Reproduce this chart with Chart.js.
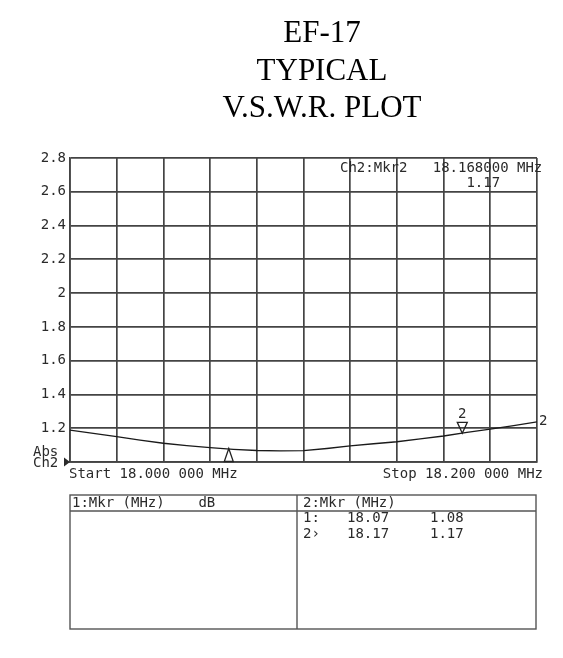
<!DOCTYPE html>
<html><head><meta charset="utf-8">
<script src="https://cdn.jsdelivr.net/npm/chart.js@4.4.0/dist/chart.umd.min.js"></script>
<style>html,body{margin:0;padding:0;background:#fff;}</style>
</head><body>
<canvas id="c" width="563" height="658"></canvas>
<script>
// ---- data ----
const titleLines = ['EF-17', 'TYPICAL', 'V.S.W.R. PLOT'];
const freqs = [18.00, 18.01, 18.02, 18.03, 18.04, 18.05, 18.06, 18.07, 18.08, 18.09, 18.10,
               18.11, 18.12, 18.13, 18.14, 18.15, 18.16, 18.17, 18.18, 18.19, 18.20];
const vswr  = [1.189, 1.170, 1.150, 1.130, 1.111, 1.097, 1.085, 1.075, 1.068, 1.066, 1.067,
               1.080, 1.095, 1.108, 1.120, 1.137, 1.154, 1.175, 1.195, 1.216, 1.238];
const yTickLabels = ['', '1.2', '1.4', '1.6', '1.8', '2', '2.2', '2.4', '2.6', '2.8'];
const markerNums  = ['1', '2'];
const markerFreqs = [18.068, 18.168];
const markerVals  = [1.08, 1.17];
const activeMarkerText = ['Ch2:Mkr2   18.168000 MHz', '               1.17'];
const startLabel = 'Start 18.000 000 MHz';
const stopLabel  = 'Stop 18.200 000 MHz';
const axisUnitLines = ['Abs', 'Ch2'];
const tableHeaders = ['1:Mkr (MHz)    dB', '2:Mkr (MHz)'];
const tableRows = [['1:', '18.07', '1.08'], ['2\u203A', '18.17', '1.17']];

// ---- styles ----
const MONO = '"DejaVu Sans Mono", "Liberation Mono", monospace';
const GRID = '#444';
const INK = '#2a2a2a';

const overlay = {
  id: 'overlay',
  afterDraw(chart) {
    const ctx = chart.ctx;
    const xs = chart.scales.x, ys = chart.scales.y;
    const area = chart.chartArea;
    ctx.save();
    // titles
    ctx.fillStyle = '#000';
    ctx.font = '31px "Liberation Serif", "Times New Roman", serif';
    ctx.textAlign = 'center';
    ctx.textBaseline = 'alphabetic';
    titleLines.forEach((t, i) => ctx.fillText(t, 322, 42 + i * 37.5));

    // instrument text
    ctx.fillStyle = INK;
    ctx.font = '14px ' + MONO;
    ctx.textAlign = 'left';
    ctx.textBaseline = 'middle';
    ctx.fillText(activeMarkerText[0], 340, 168);
    ctx.fillText(activeMarkerText[1], 340, 183);
    ctx.fillText(startLabel, 69, area.bottom + 12);
    ctx.textAlign = 'right';
    ctx.fillText(stopLabel, 543, area.bottom + 12);
    ctx.textAlign = 'left';
    ctx.fillText(axisUnitLines[0], 33, area.bottom - 10);
    ctx.fillText(axisUnitLines[1], 33, area.bottom + 1);

    // reference-level arrow
    ctx.beginPath();
    ctx.moveTo(area.left, area.bottom);
    ctx.lineTo(area.left - 6, area.bottom - 4.5);
    ctx.lineTo(area.left - 6, area.bottom + 4.5);
    ctx.closePath();
    ctx.fill();

    // markers
    ctx.strokeStyle = '#222';
    ctx.lineWidth = 1.3;
    markerFreqs.forEach((f, i) => {
      const px = xs.getPixelForValue(f);
      const py = ys.getPixelForValue(markerVals[i]);
      ctx.beginPath();
      if (i === 0) {
        ctx.moveTo(px, py);
        ctx.lineTo(px - 4.5, py + 13);
        ctx.lineTo(px + 4.5, py + 13);
      } else {
        ctx.moveTo(px, py);
        ctx.lineTo(px - 5, py - 11);
        ctx.lineTo(px + 5, py - 11);
        ctx.font = '14px ' + MONO;
        ctx.textAlign = 'center';
        ctx.textBaseline = 'middle';
        ctx.fillText(markerNums[i], px, py - 19);
      }
      ctx.closePath();
      ctx.stroke();
    });
    // trace end label
    ctx.font = '14px ' + MONO;
    ctx.textAlign = 'left';
    ctx.textBaseline = 'middle';
    ctx.fillText('2', area.right + 2, ys.getPixelForValue(vswr[vswr.length - 1]));

    // marker table
    const tL = 70, tR = 536, tT = 495, tB = 629, tH = 511, tD = 297;
    ctx.strokeStyle = '#555';
    ctx.lineWidth = 1.4;
    ctx.strokeRect(tL, tT, tR - tL, tB - tT);
    ctx.beginPath();
    ctx.moveTo(tL, tH); ctx.lineTo(tR, tH);
    ctx.moveTo(tD, tT); ctx.lineTo(tD, tB);
    ctx.stroke();
    ctx.fillStyle = INK;
    ctx.font = '14px ' + MONO;
    ctx.textAlign = 'left';
    ctx.textBaseline = 'middle';
    ctx.fillText(tableHeaders[0], tL + 2, 503);
    ctx.fillText(tableHeaders[1], tD + 6, 503);
    const colX = [tD + 6, tD + 50, tD + 133];
    tableRows.forEach((row, r) => {
      row.forEach((cell, c) => ctx.fillText(cell, colX[c], 518 + r * 16));
    });
    ctx.restore();
  }
};

new Chart(document.getElementById('c'), {
  type: 'line',
  data: {
    datasets: [{
      data: freqs.map((f, i) => ({ x: f, y: vswr[i] })),
      borderColor: '#1a1a1a',
      borderWidth: 1.3,
      pointRadius: 0,
      tension: 0,
      fill: false
    }]
  },
  options: {
    responsive: false,
    animation: false,
    layout: { padding: { top: 158, right: 26, left: 0, bottom: 0 } },
    plugins: { legend: { display: false }, tooltip: { enabled: false }, title: { display: false } },
    scales: {
      x: {
        type: 'linear', min: 18.0, max: 18.2,
        ticks: { display: false, stepSize: 0.02 },
        grid: { color: GRID, lineWidth: 1.7, drawTicks: false },
        border: { display: true, color: GRID, width: 1.7 },
        afterFit(s) { s.height = 196; }
      },
      y: {
        type: 'linear', min: 1.0, max: 2.8,
        ticks: {
          stepSize: 0.2, autoSkip: false, padding: 4, color: INK,
          font: { family: MONO, size: 14 },
          callback: (v, i) => yTickLabels[i]
        },
        grid: { color: GRID, lineWidth: 1.7, drawTicks: false },
        border: { display: true, color: GRID, width: 1.7 },
        afterFit(s) { s.width = 70; }
      }
    }
  },
  plugins: [overlay]
});
</script>
</body></html>
